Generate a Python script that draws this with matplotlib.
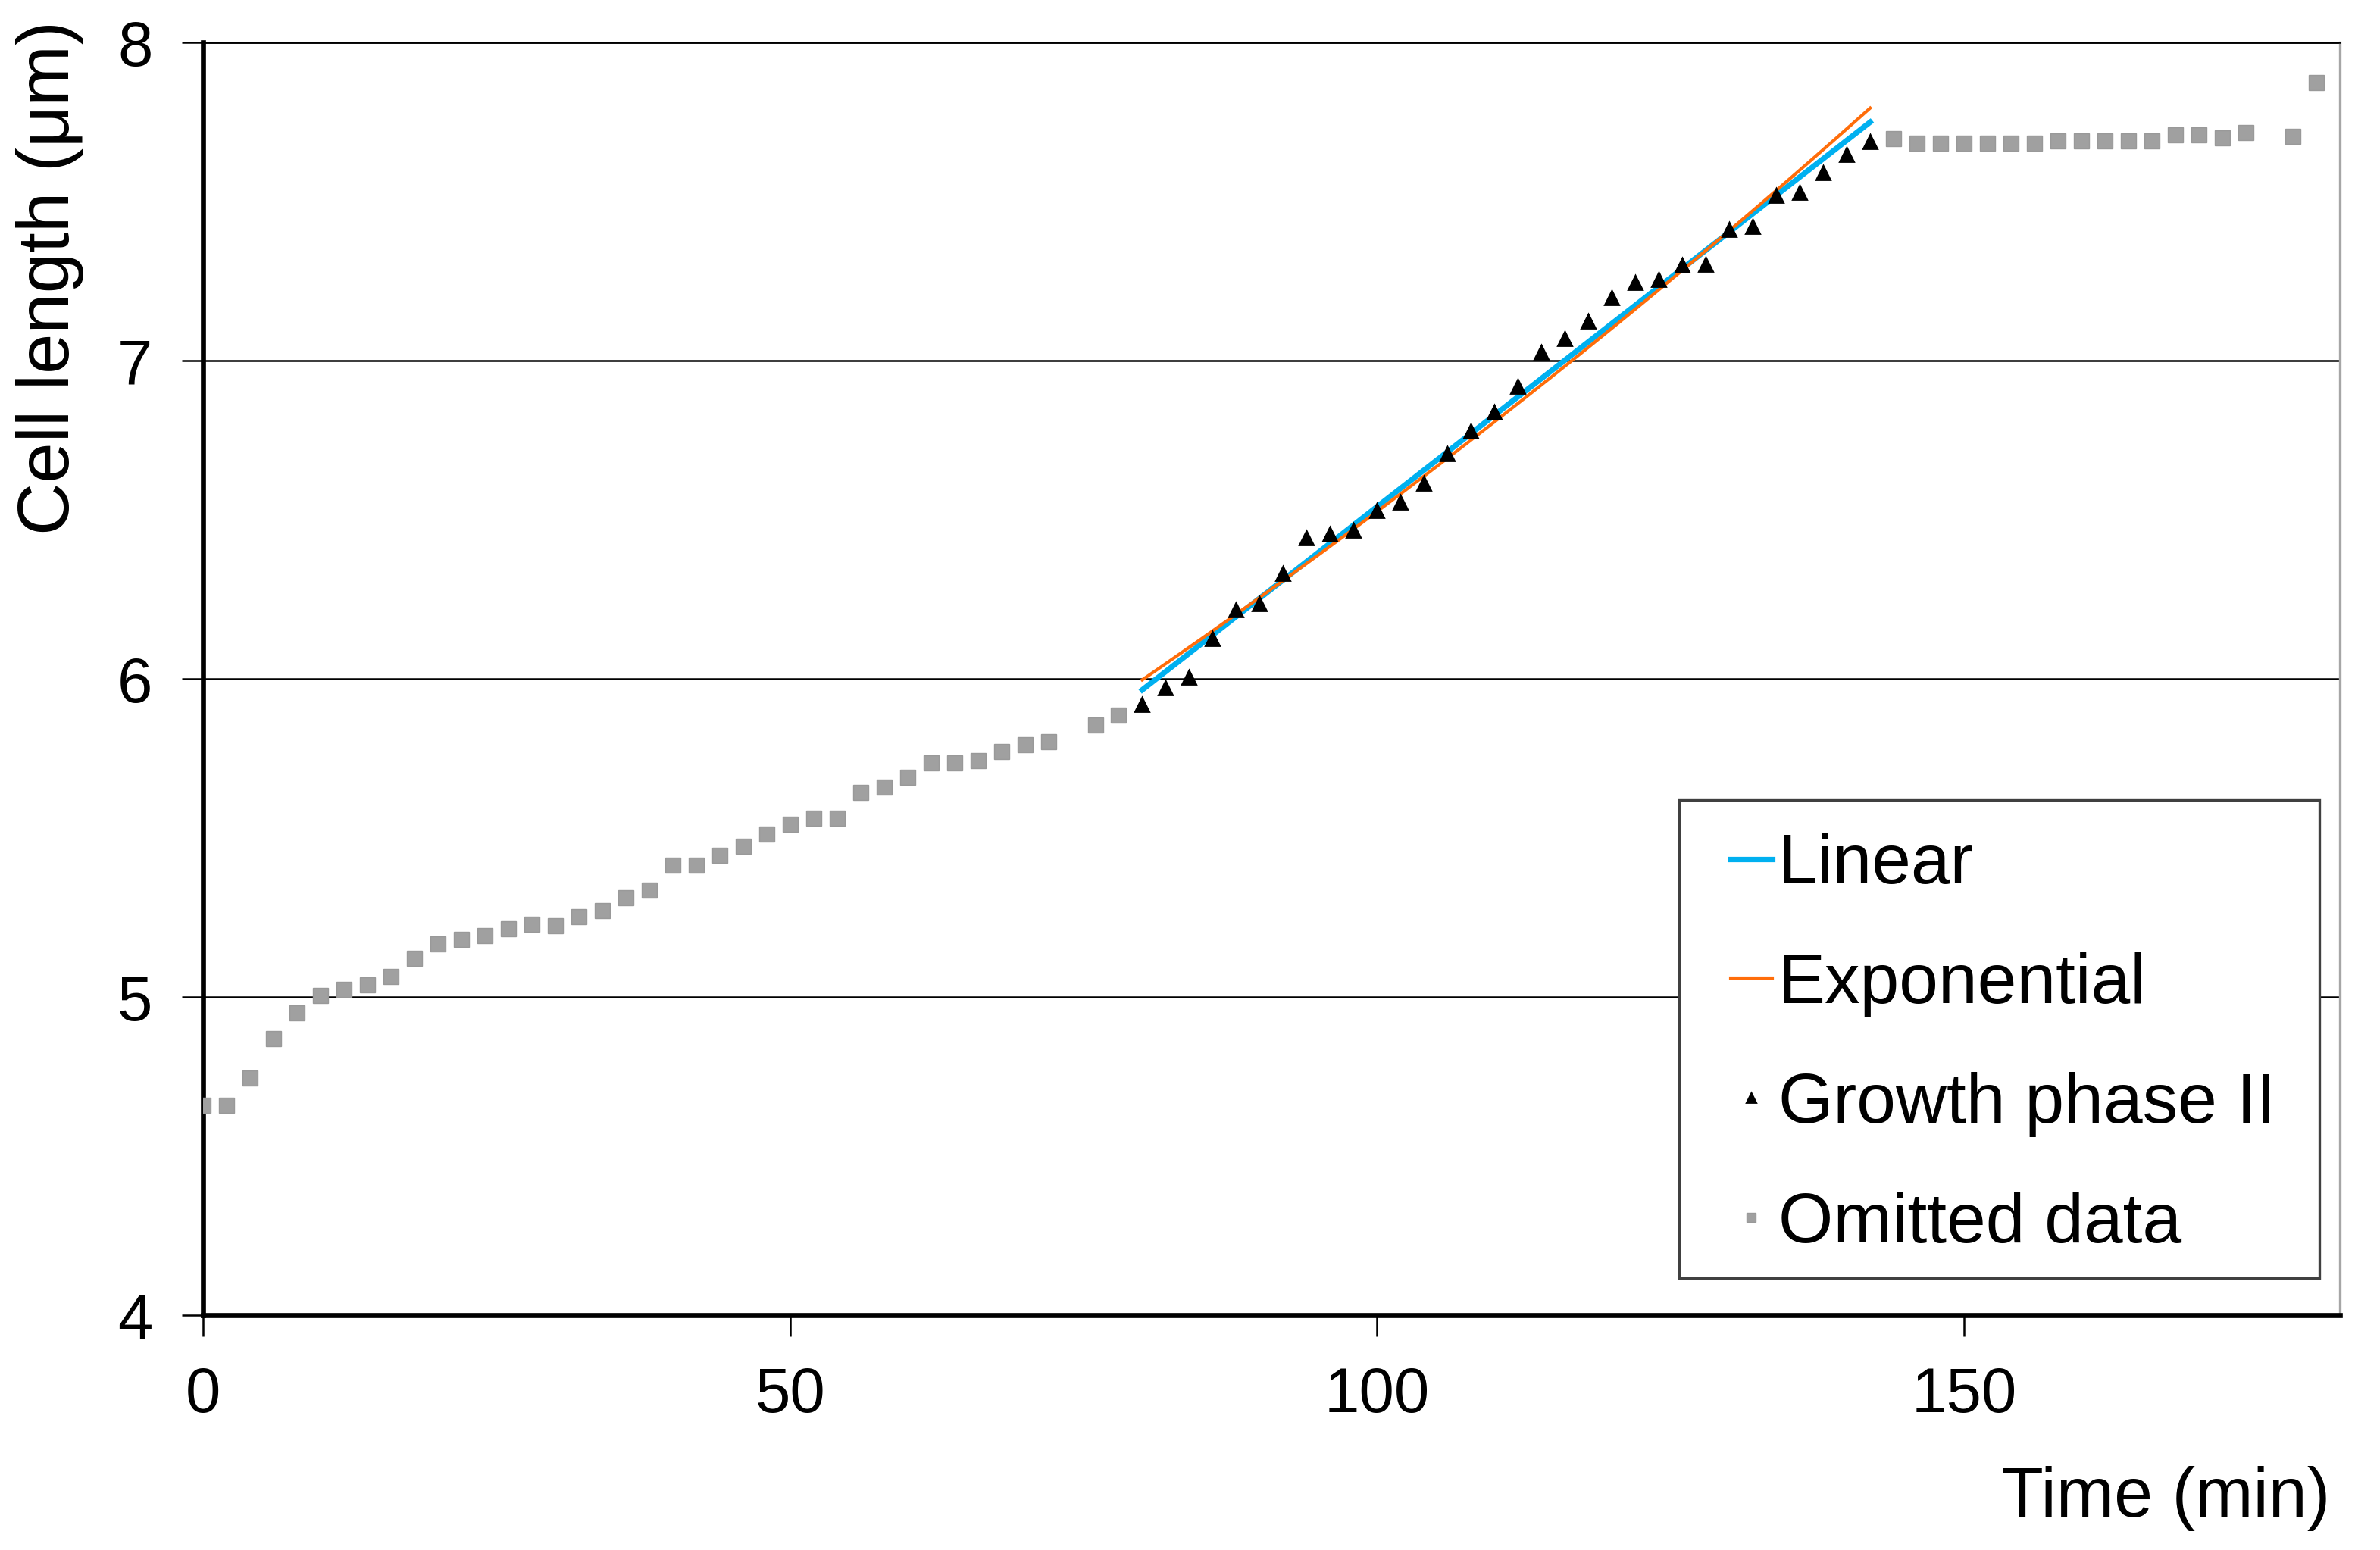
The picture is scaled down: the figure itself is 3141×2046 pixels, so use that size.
import numpy as np
import matplotlib
matplotlib.use("Agg")
import matplotlib.pyplot as plt
from matplotlib.patches import Rectangle

plt.rcParams['font.family'] = ['Liberation Sans', 'DejaVu Sans']

# omitted data (grey squares), time in min / length in um
omit_t = [0, 2, 4, 6, 8, 10, 12, 14, 16, 18, 20, 22, 24, 26, 28, 30, 32, 34, 36, 38,
          40, 42, 44, 46, 48, 50, 52, 54, 56, 58, 60, 62, 64, 66, 68, 70, 72, 76, 78,
          144, 146, 148, 150, 152, 154, 156, 158, 160, 162, 164, 166, 168, 170, 172, 174, 178, 180]
omit_y = [4.66, 4.66, 4.746, 4.870, 4.951, 5.004, 5.025, 5.038, 5.065, 5.121, 5.167, 5.181, 5.193,
          5.214, 5.228, 5.224, 5.252, 5.271, 5.311, 5.336,
          5.414, 5.414, 5.445, 5.475, 5.511, 5.542, 5.562, 5.562, 5.644, 5.660, 5.690, 5.737,
          5.737, 5.742, 5.772, 5.792, 5.803, 5.856, 5.887,
          7.697, 7.684, 7.684, 7.684, 7.684, 7.684, 7.684, 7.690, 7.690, 7.690, 7.690, 7.690,
          7.710, 7.710, 7.701, 7.716, 7.705, 7.874]

# growth phase II (black triangles)
phase_t = [80, 82, 84, 86, 88, 90, 92, 94, 96, 98, 100, 102, 104, 106, 108, 110,
           112, 114, 116, 118, 120, 122, 124, 126, 128, 130, 132, 134, 136, 138, 140, 142]
phase_y = [5.919, 5.971, 6.006, 6.126, 6.217, 6.237, 6.330, 6.443, 6.456, 6.467, 6.529, 6.556,
           6.615, 6.707, 6.778, 6.838, 6.918, 7.026, 7.070, 7.125, 7.197, 7.245, 7.256, 7.300,
           7.302, 7.411, 7.421, 7.518, 7.529, 7.590, 7.648, 7.689]

pt = np.array(phase_t, dtype=float)
py = np.array(phase_y)
# trendlines fitted to phase II, like the spreadsheet does
lin = np.polyfit(pt, py, 1)
ex = np.polyfit(pt, np.log(py), 1)
ft = np.linspace(pt.min(), pt.max(), 200)
lin_y = np.polyval(lin, ft)
exp_y = np.exp(np.polyval(ex, ft))

fig = plt.figure(figsize=(15.705, 10.23), dpi=200)
ax = fig.add_axes([0.0853, 0.1515, 0.8978, 0.8211])

ax.plot(omit_t, omit_y, 's', color='#a0a0a0', markersize=7, markeredgecolor='#999999',
        markeredgewidth=0.5, label='Omitted data', zorder=3)
ax.plot(ft, lin_y, color='#00b0f0', lw=2.6, label='Linear', zorder=4)
ax.plot(ft, exp_y, color='#ff6d0a', lw=1.5, label='Exponential', zorder=5)
ax.plot(phase_t, phase_y, '^', color='black', markersize=6.8, label='Growth phase II', zorder=6)

ax.set_xlim(0, 182)
ax.set_ylim(4, 8)
ax.set_xticks([0, 50, 100, 150])
ax.set_yticks([4, 5, 6, 7, 8])
ax.yaxis.grid(True, color='black', lw=0.9)
ax.set_axisbelow(True)

ax.spines['left'].set_linewidth(2.4)
ax.spines['bottom'].set_linewidth(2.4)
ax.spines['top'].set_linewidth(0.9)
ax.spines['top'].set_color('black')
ax.spines['right'].set_color('#a6a6a6')
ax.spines['right'].set_linewidth(1.2)

ax.tick_params(axis='both', direction='out', length=10, width=0.9, labelsize=30)
ax.tick_params(axis='y', pad=14)
ax.tick_params(axis='x', pad=14)

fig.text(0.021, 0.987, 'Cell length (μm)', rotation=90, ha='center', va='top', fontsize=34.5)
fig.text(0.979, 0.033, 'Time (min)', ha='right', va='center', fontsize=33)

# legend box drawn by hand so the padding matches
box = Rectangle((0.7054, 0.1753), 0.2691, 0.3085, transform=fig.transFigure,
                facecolor='white', edgecolor='#404040', lw=1.2, zorder=7, clip_on=False)
ax.add_patch(box)

h, l = ax.get_legend_handles_labels()
order = [1, 2, 3, 0]
leg = ax.legend([h[i] for i in order], [l[i] for i in order], loc='upper left',
                bbox_to_anchor=(0.7270, 1 - 548.5 / 1021), bbox_transform=fig.transFigure,
                fontsize=33.5, frameon=False, handlelength=0.6, handletextpad=0.08,
                labelspacing=0.772, borderpad=0, markerscale=0.6, borderaxespad=0)
leg.set_zorder(8)

fig.savefig('out.png', dpi=200)
